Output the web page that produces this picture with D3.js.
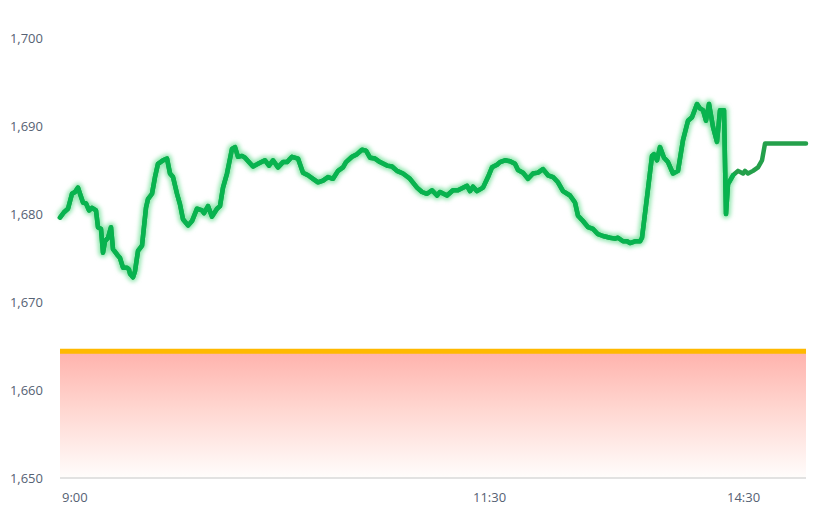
<!DOCTYPE html>
<html>
<head>
  <script src="https://cdnjs.cloudflare.com/ajax/libs/d3/7.8.5/d3.min.js"></script>
  <style>
    body {
        margin: 0;
        background: #fff;
    }

    .tick-label {
        font-family: "Open Sans", sans-serif;
        font-size: 13px;
        fill: #566274;
    }
  </style>
</head>
<body>
  <div id="chart"></div>

  <script>
    // minutes since the open (session compressed, lunch removed)
    var minutes = [0, 2, 4, 6, 7.5, 9, 10, 11.5, 13, 14.5, 16, 18, 19, 20.5, 21.5, 22.5, 24, 25.5, 26.5, 28.5,
      30, 31.5, 33.5, 34.5, 35, 36.5, 37.5, 39, 41, 43, 44, 46, 47.5, 49, 51.5, 53.5, 55, 56.5, 58.5, 60,
      61.5, 64, 66, 68.5, 71, 72, 74, 76, 78.5, 80, 81.5, 83.5, 86, 87.5, 89, 91, 92.5, 96.5, 99, 102.5,
      104.5, 106.5, 109, 111.5, 113.5, 116, 119, 121.5, 124, 126.5, 129, 131.5, 134, 136.5, 139, 141.5, 143, 146, 148.5, 151,
      153, 155, 157.5, 160, 163.5, 166, 168.5, 171.5, 175, 178.5, 181, 183.5, 186, 188.5, 190, 193.5, 196.5, 199, 203.5, 205,
      206.5, 208.5, 211.5, 214, 216, 218.5, 220, 222.5, 225, 227.5, 229, 231.5, 234, 236.5, 239, 241.5, 244, 246.5, 249, 251.5,
      255, 257.5, 259, 261.5, 264, 266.5, 269, 271.5, 275, 277.5, 279, 281.5, 283.5, 285, 287.5, 290, 291, 293.5, 296, 297,
      298.5, 300, 302, 304, 306.5, 309, 311.5, 314, 316, 318.5, 320, 321.5, 323, 324.5, 326.5, 328.5, 330, 332, 333, 334,
      336.5, 339, 341.5, 342.5, 344, 346.5, 349, 351, 352.5, 373];

    var prices = [1679.6, 1680.2, 1680.6, 1682.3, 1682.5, 1683.0, 1682.3, 1681.3, 1681.2, 1680.4, 1680.7, 1680.4, 1678.5, 1678.3, 1675.6, 1676.9, 1677.3, 1678.5, 1676.0, 1675.4,
      1675.0, 1673.9, 1673.9, 1673.7, 1673.2, 1672.8, 1673.5, 1675.8, 1676.4, 1680.7, 1681.7, 1682.3, 1684.2, 1685.7, 1686.1, 1686.3, 1684.6, 1684.2, 1682.3, 1681.1,
      1679.4, 1678.7, 1679.2, 1680.6, 1680.4, 1680.1, 1680.9, 1679.7, 1680.6, 1680.9, 1683.0, 1684.6, 1687.4, 1687.6, 1686.5, 1686.6, 1686.4, 1685.4, 1685.7, 1686.1,
      1685.5, 1686.1, 1685.3, 1685.9, 1685.9, 1686.5, 1686.3, 1684.7, 1684.4, 1684.0, 1683.6, 1683.8, 1684.2, 1684.0, 1684.9, 1685.3, 1685.9, 1686.5, 1686.8, 1687.3,
      1687.2, 1686.4, 1686.3, 1685.9, 1685.5, 1685.4, 1684.9, 1684.6, 1684.0, 1683.0, 1682.5, 1682.3, 1682.7, 1682.1, 1682.5, 1682.1, 1682.7, 1682.7, 1683.2, 1682.6,
      1683.1, 1682.6, 1683.0, 1684.2, 1685.3, 1685.6, 1685.9, 1686.1, 1686.0, 1685.7, 1685.0, 1684.7, 1684.0, 1684.6, 1684.7, 1685.1, 1684.4, 1684.2, 1683.6, 1682.6,
      1682.1, 1681.3, 1679.8, 1679.2, 1678.5, 1678.3, 1677.7, 1677.5, 1677.3, 1677.2, 1677.3, 1676.9, 1676.9, 1676.7, 1676.9, 1676.9, 1677.3, 1681.9, 1686.6, 1686.8,
      1686.1, 1687.6, 1686.4, 1685.9, 1684.6, 1684.9, 1688.4, 1690.6, 1691.0, 1692.5, 1692.0, 1691.8, 1690.6, 1692.5, 1689.9, 1688.2, 1691.8, 1691.8, 1680.0, 1683.4,
      1684.4, 1684.9, 1684.6, 1684.9, 1684.6, 1684.9, 1685.3, 1686.1, 1688.0, 1688.0];

    var prevClose = 1664.4;
    var glowUntil = 336.5; // highlighted part of the line

    var yTicks = [1650, 1660, 1670, 1680, 1690, 1700];
    var xTickLabels = ["9:00", "11:30", "14:30"];
    var xTickMinutes = [0, 205.5, 332.5];

    var w = 839;
    var h = 509;

    var data = minutes.map((m, i) => ({ t: m, v: prices[i] }));

    var svg = d3.select("#chart")
      .append("svg")
      .attr("width", w)
      .attr("height", h);

    var xScale = d3.scaleLinear().domain([0, 373]).range([60, 806]);
    var yScale = d3.scaleLinear().domain([1650, 1700]).range([478, 38]);

    var defs = svg.append("defs");

    var grad = defs.append("linearGradient")
      .attr("id", "redFade")
      .attr("x1", 0).attr("y1", 0)
      .attr("x2", 0).attr("y2", 1);
    grad.append("stop").attr("offset", "0%").attr("stop-color", "#ffb2ac");
    grad.append("stop").attr("offset", "45%").attr("stop-color", "#ffd6d0");
    grad.append("stop").attr("offset", "100%").attr("stop-color", "#fffdfc");

    defs.append("filter").attr("id", "blur")
      .attr("x", "-5%").attr("y", "-50%").attr("width", "110%").attr("height", "200%")
      .append("feGaussianBlur").attr("stdDeviation", 2.2);

    // red area under the previous close
    var area = d3.area()
      .x(d => xScale(d))
      .y0(yScale(1650))
      .y1(yScale(prevClose));
    svg.append("path")
      .datum(d3.extent(minutes))
      .attr("d", area)
      .attr("fill", "url(#redFade)");

    // x axis line
    svg.append("line")
      .attr("x1", xScale(0))
      .attr("x2", xScale(373))
      .attr("y1", yScale(1650))
      .attr("y2", yScale(1650))
      .attr("stroke", "#d9d9d9")
      .attr("stroke-width", 1.5);

    // previous close line with its glow
    var glowPart = [0, glowUntil];
    svg.append("line")
      .attr("x1", xScale(glowPart[0]))
      .attr("x2", xScale(glowPart[1]))
      .attr("y1", yScale(prevClose) - 2)
      .attr("y2", yScale(prevClose) - 2)
      .attr("stroke", "#ffc860")
      .attr("stroke-width", 6)
      .attr("opacity", 0.6)
      .attr("filter", "url(#blur)");
    svg.append("line")
      .attr("x1", xScale(glowPart[1]))
      .attr("x2", xScale(373))
      .attr("y1", yScale(prevClose) - 2)
      .attr("y2", yScale(prevClose) - 2)
      .attr("stroke", "#ffb0c8")
      .attr("stroke-width", 5)
      .attr("opacity", 0.45)
      .attr("filter", "url(#blur)");
    svg.append("line")
      .attr("x1", xScale(0))
      .attr("x2", xScale(373))
      .attr("y1", yScale(prevClose))
      .attr("y2", yScale(prevClose))
      .attr("stroke", "#ffb900")
      .attr("stroke-width", 5);

    // price line
    var line = d3.line()
      .x(d => xScale(d.t))
      .y(d => yScale(d.v))
      .curve(d3.curveLinear);

    var lit = data.filter(d => d.t <= glowUntil);

    svg.append("path")
      .datum(lit)
      .attr("d", line)
      .attr("fill", "none")
      .attr("stroke", "#8fe6ad")
      .attr("stroke-width", 9)
      .attr("stroke-linejoin", "round")
      .attr("filter", "url(#blur)");

    svg.append("path")
      .datum(data)
      .attr("d", line)
      .attr("fill", "none")
      .attr("stroke", "#24a04b")
      .attr("stroke-width", 4.5)
      .attr("stroke-linejoin", "round")
      .attr("stroke-linecap", "round");

    svg.append("path")
      .datum(lit)
      .attr("d", line)
      .attr("fill", "none")
      .attr("stroke", "#08b34f")
      .attr("stroke-width", 4.5)
      .attr("stroke-linejoin", "round")
      .attr("stroke-linecap", "round");

    // y labels
    svg.selectAll(".ylab").data(yTicks).enter().append("text")
      .attr("class", "tick-label ylab")
      .attr("x", 43)
      .attr("y", d => yScale(d))
      .attr("dy", "0.35em")
      .attr("text-anchor", "end")
      .text(d => d3.format(",")(d));

    // x labels
    svg.selectAll(".xlab").data(xTickLabels).enter().append("text")
      .attr("class", "tick-label xlab")
      .attr("x", (d, i) => xScale(xTickMinutes[i]) + 2)
      .attr("y", 497)
      .attr("dy", "0.35em")
      .attr("text-anchor", "start")
      .text(d => d);
  </script>
</body>
</html>
